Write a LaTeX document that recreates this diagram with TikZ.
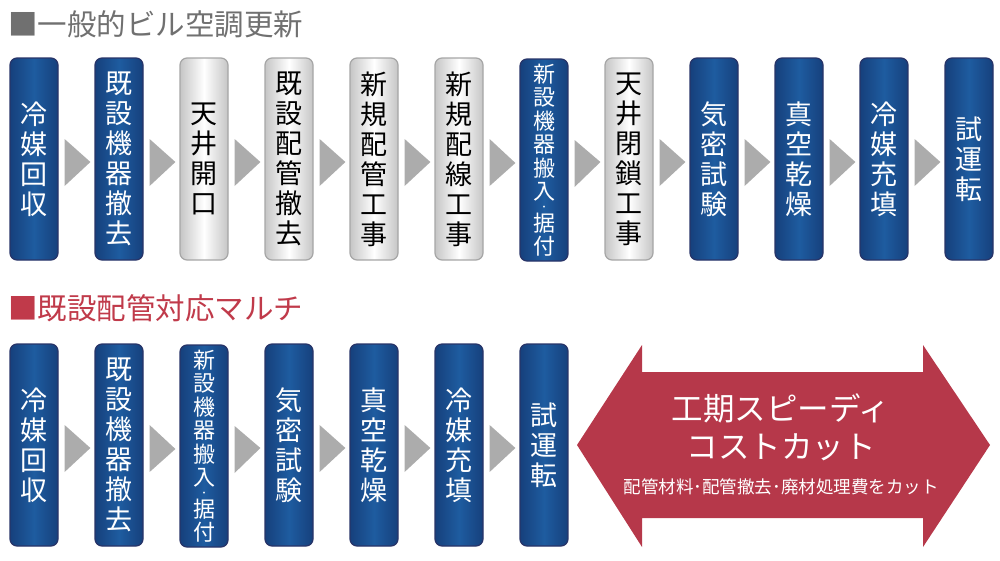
\documentclass[tikz,border=0pt]{standalone}
\usepackage{fontspec}
\newfontfamily\jpfont{Noto Sans CJK JP}
\usetikzlibrary{calc}

\definecolor{stepblue}{RGB}{30,92,160}
\definecolor{stepbluedark}{RGB}{22,64,124}
\definecolor{stepline}{RGB}{40,52,104}
\definecolor{stepgray}{RGB}{172,172,172}
\definecolor{titlegray}{RGB}{112,112,112}
\definecolor{titlered}{RGB}{192,58,74}
\definecolor{costred}{RGB}{182,56,74}

\newcommand\middot{{\fontsize{9}{9}\selectfont ・}}

\tikzset{
  box/.style={rounded corners=7pt, minimum width=48pt, minimum height=202pt,
    inner sep=0pt, align=center, line width=1.2pt,
    font=\jpfont\fontsize{27}{30}\selectfont},
  bluebox/.style={box, draw=stepline, left color=stepbluedark,
    right color=stepbluedark, middle color=stepblue, text=white},
  graybox/.style={box, draw=gray!70, left color=gray!45,
    right color=gray!45, middle color=white, text=black},
  longbox/.style={font=\jpfont\fontsize{22}{23.5}\selectfont},
  title/.style={anchor=west, inner sep=0pt,
    font=\jpfont\fontsize{29.5}{29.5}\selectfont},
}

\begin{document}
\begin{tikzpicture}[x=1pt,y=-1pt]
  \useasboundingbox (0,0) rectangle (1000,560);

  % general renewal
  \node[title, text=titlegray] (ttop) at (8,24) {■一般的ビル空調更新};
  \node[bluebox] (t1) at (34,159) {冷\\媒\\回\\収};
  \node[bluebox] (t2) at (119,159) {既\\設\\機\\器\\撤\\去};
  \node[graybox] (t3) at (204,159) {天\\井\\開\\口};
  \node[graybox] (t4) at (289,159) {既\\設\\配\\管\\撤\\去};
  \node[graybox] (t5) at (374,159) {新\\規\\配\\管\\工\\事};
  \node[graybox] (t6) at (459,159) {新\\規\\配\\線\\工\\事};
  \node[bluebox, longbox] (t7) at (544,160) {新\\設\\機\\器\\搬\\入\\[-13pt]\middot\\[-2.5pt]据\\付};
  \node[graybox] (t8) at (629,159) {天\\井\\閉\\鎖\\工\\事};
  \node[bluebox] (t9) at (714,159) {気\\密\\試\\験};
  \node[bluebox] (t10) at (799,159) {真\\空\\乾\\燥};
  \node[bluebox] (t11) at (884,159) {冷\\媒\\充\\填};
  \node[bluebox] (t12) at (969,159) {試\\運\\転};
  \foreach \i [evaluate=\i as \j using int(\i+1)] in {1,...,11}
    \fill[stepgray] ($(t\i.east)+(6,-20)$) -- ($(t\i.east)+(6,27)$)
      -- ($(t\j.west)+(-4,3)$) -- cycle;

  % multi for existing piping
  \node[title, text=titlered] (tbot) at (8,308) {■既設配管対応マルチ};
  \node[bluebox] (b1) at (34,445) {冷\\媒\\回\\収};
  \node[bluebox] (b2) at (119,445) {既\\設\\機\\器\\撤\\去};
  \node[bluebox, longbox] (b3) at (204,446) {新\\設\\機\\器\\搬\\入\\[-13pt]\middot\\[-2.5pt]据\\付};
  \node[bluebox] (b4) at (289,445) {気\\密\\試\\験};
  \node[bluebox] (b5) at (374,445) {真\\空\\乾\\燥};
  \node[bluebox] (b6) at (459,445) {冷\\媒\\充\\填};
  \node[bluebox] (b7) at (544,445) {試\\運\\転};
  \foreach \i [evaluate=\i as \j using int(\i+1)] in {1,...,6}
    \fill[stepgray] ($(b\i.east)+(6,-20)$) -- ($(b\i.east)+(6,27)$)
      -- ($(b\j.west)+(-4,3)$) -- cycle;

  % double arrow
  \fill[costred] (577,445) -- (642,345) -- (642,372) -- (923,372) -- (923,345)
    -- (990,445) -- (923,547) -- (923,518) -- (642,518) -- (642,547) -- cycle;
  \node[text=white, font=\jpfont\fontsize{31.5}{31.5}\selectfont] (speed) at (781,408) {工期スピーディ};
  \node[text=white, font=\jpfont\fontsize{31.5}{31.5}\selectfont] (cut) at (781,447) {コストカット};
  \node[text=white, font=\jpfont\fontsize{17.5}{17.5}\selectfont] (items) at (781,487) {配管材料･配管撤去･廃材処理費をカット};
\end{tikzpicture}
\end{document}
